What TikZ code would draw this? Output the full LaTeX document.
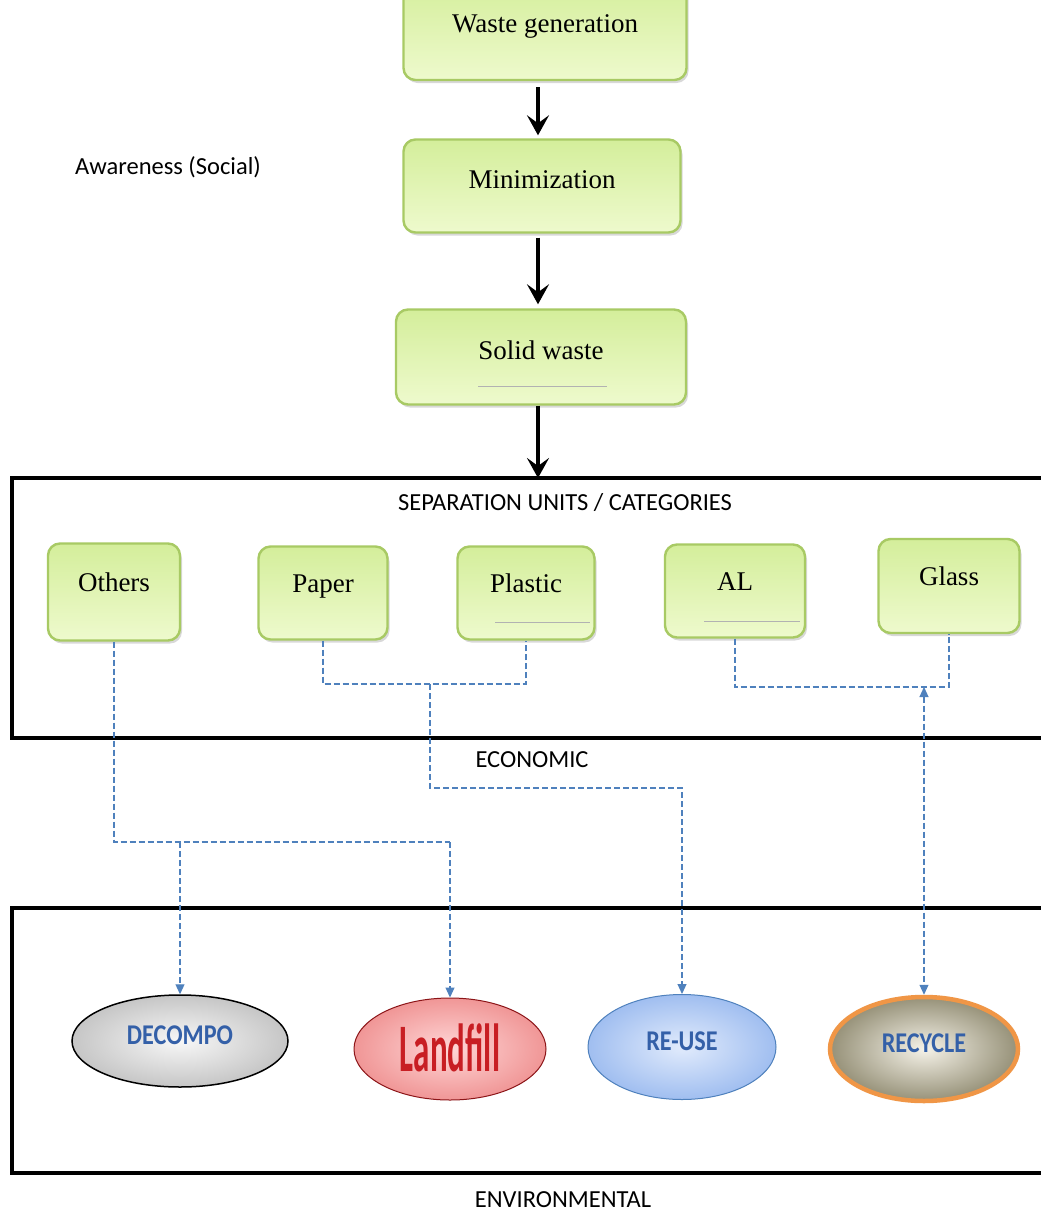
\documentclass[tikz,border=0pt]{standalone}
\usepackage{fontspec}
\setmainfont{Liberation Serif}
\newfontfamily\calibri{Carlito}
\usetikzlibrary{arrows.meta,shapes.geometric,shadows}
\definecolor{boxtop}{RGB}{212,238,155}
\definecolor{boxbot}{RGB}{238,250,205}
\definecolor{boxborder}{RGB}{168,202,100}
\definecolor{dashblue}{RGB}{79,129,189}
\definecolor{wordblue}{RGB}{52,96,168}
\definecolor{wordred}{RGB}{200,30,35}
\definecolor{recorange}{RGB}{240,150,70}
\tikzset{
  gbox/.style={draw=boxborder, line width=2.4pt, rounded corners=12pt,
    top color=boxtop, bottom color=boxbot,
    font=\fontsize{27}{30}\selectfont, text height=20pt, text depth=15pt,
    drop shadow={shadow xshift=2pt, shadow yshift=-3pt, opacity=0.3, fill=gray}},
  sbox/.style={gbox, text height=18pt, text depth=20pt},
  frame/.style={draw=black, line width=4pt},
  flowarrow/.style={line width=4.5pt, -{Stealth[length=20pt,width=22pt,inset=8pt]}},
  dashline/.style={draw=dashblue, line width=1.1pt, dash pattern=on 6pt off 3pt},
  dasharrow/.style={dashline, -{Triangle[length=10pt,width=9pt]}},
  dashboth/.style={dashline, {Triangle[length=10pt,width=9pt]}-{Triangle[length=10pt,width=9pt]}},
  sanslabel/.style={font=\calibri\fontsize{24.5}{28}\selectfont},
  underl/.style={draw=gray!60, line width=1.5pt},
  oval/.style={ellipse, line width=1.5pt, font=\calibri\bfseries\fontsize{26}{28}\selectfont},
}
\newcommand{\ovaltext}[1]{\raisebox{-3pt}[0pt][0pt]{\scalebox{0.93}[1.1]{#1}}}
\begin{document}
\begin{tikzpicture}[x=1pt,y=-1pt]
\useasboundingbox (0,0) rectangle (1041,1216);
\fill[white] (0,0) rectangle (1041,1216);

% flow boxes
\node[gbox, minimum width=283pt, minimum height=100pt] (wg) at (545,30) {Waste generation};
\node[gbox, minimum width=277pt, minimum height=93pt] (mn) at (542,186) {Minimization};
\node[gbox, minimum width=290pt, minimum height=95pt] (sw) at (541,357) {Solid waste};
\draw[underl] ([xshift=-63pt,yshift=19pt]sw.south) -- ([xshift=66pt,yshift=19pt]sw.south);

\node[sanslabel] (aw) at (168,167) {Awareness (Social)};

% frames
\node[frame, minimum width=1048pt, minimum height=260pt] (sep) at (536,608) {};
\node[frame, minimum width=1048pt, minimum height=265pt] (env) at (536,1040) {};
\node[sanslabel] (septitle) at (565,503) {SEPARATION UNITS / CATEGORIES};
\node[sanslabel] (eco) at (532,760) {ECONOMIC};
\node[sanslabel] (envl) at (563,1200) {ENVIRONMENTAL};

\coordinate (ax) at (538,0);
\draw[flowarrow] ([yshift=-6pt]wg.south -| ax) -- ([yshift=3pt]mn.north -| ax);
\draw[flowarrow] ([yshift=-4pt]mn.south -| ax) -- ([yshift=4pt]sw.north -| ax);
\draw[flowarrow] (sw.south -| ax) -- ([yshift=-2pt]ax |- sep.north);

% category boxes
\node[sbox, minimum width=132pt, minimum height=97pt] (others) at (114,592) {Others};
\node[sbox, minimum width=129pt, minimum height=93pt] (paper) at (323,593) {Paper};
\node[sbox, minimum width=137pt, minimum height=93pt] (plastic) at (526,593) {Plastic};
\node[sbox, minimum width=140pt, minimum height=93pt] (al) at (735,591) {AL};
\node[sbox, minimum width=141pt, minimum height=94pt] (glass) at (949,586) {Glass};
\draw[underl] ([xshift=-31pt,yshift=18pt]plastic.south) -- ([xshift=64pt,yshift=18pt]plastic.south);
\draw[underl] ([xshift=-31pt,yshift=17pt]al.south) -- ([xshift=65pt,yshift=17pt]al.south);

% outcome ovals
\node[oval, draw=black, inner color=gray!6, outer color=gray!45, minimum width=216pt, minimum height=92pt] (dec) at (180,1041)
  {\color{wordblue}\ovaltext{DECOMPO}};
\node[oval, draw=wordred!70!black, line width=1pt, inner color={rgb,255:red,255;green,215;blue,215}, outer color={rgb,255:red,240;green,150;blue,150}, minimum width=192pt, minimum height=102pt] (land) at (450,1049)
  {\color{wordred}\raisebox{-22pt}[0pt][0pt]{\scalebox{0.97}[2.0]{\fontsize{34}{36}\selectfont Landfill}}};
\node[oval, draw=dashblue, line width=1pt, inner color={rgb,255:red,225;green,235;blue,252}, outer color={rgb,255:red,160;green,190;blue,240}, minimum width=188pt, minimum height=105pt] (reuse) at (682,1047)
  {\color{wordblue}\ovaltext{RE-USE}};
\node[oval, draw=recorange, line width=4.5pt, inner color={rgb,255:red,245;green,242;blue,232}, outer color={rgb,255:red,150;green,145;blue,120}, minimum width=188pt, minimum height=104pt] (rec) at (924,1049)
  {\color{wordblue}\ovaltext{RECYCLE}};

% dashed connectors
\coordinate (j1) at (others.south |- 0,842);
\coordinate (jland) at (land.north |- j1);
\coordinate (jdec) at (dec.north |- j1);
\draw[dashline] (others.south) -- (j1) -- (jland);
\draw[dasharrow] (jdec) -- (dec.north);
\draw[dasharrow] (jland) -- (land.north);

\coordinate (jp) at (paper.south |- 0,684);
\coordinate (jq) at (plastic.south |- jp);
\coordinate (jpb) at (430,684);
\coordinate (jpc) at (430,788);
\coordinate (jpd) at (reuse.north |- jpc);
\draw[dashline] (paper.south) -- (jp) -- (jq) -- (plastic.south);
\draw[dasharrow] (jpb) -- (jpc) -- (jpd) -- (reuse.north);

\coordinate (ja) at (al.south |- 0,687);
\coordinate (jg) at (glass.south |- ja);
\coordinate (jr) at (rec.north |- ja);
\draw[dashline] (al.south) -- (ja) -- (jg) -- (glass.south);
\draw[dashboth] (jr) -- (rec.north);
\end{tikzpicture}
\end{document}
